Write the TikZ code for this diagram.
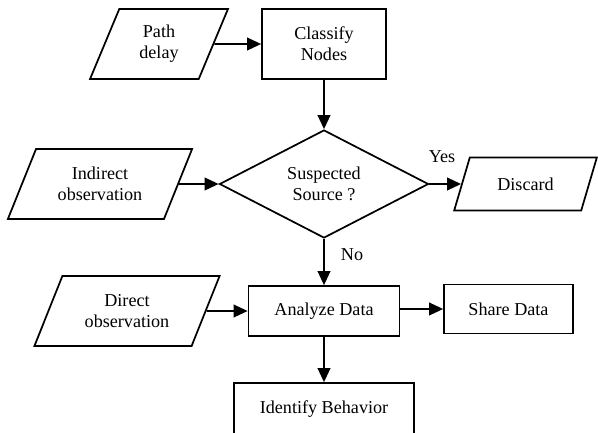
\documentclass[tikz,border=0pt]{standalone}
\usepackage{fontspec}
\setmainfont{Liberation Serif}
\usetikzlibrary{shapes.geometric}
\usetikzlibrary{arrows.meta}

\begin{document}
\begin{tikzpicture}[x=0.75pt,y=0.75pt,yscale=-1,xscale=1,
  every node/.style={font=\fontsize{13.6}{15.8}\selectfont, align=center, inner sep=0.75pt},
  procbox/.style={draw, line width=1.3pt, rectangle},
  iobox/.style={draw, line width=1.3pt, trapezium, trapezium stretches=true,
    trapezium left angle=#1, trapezium right angle={180-#1}},
  iobox/.default=62,
  decision/.style={draw, line width=1.3pt, diamond, shape aspect=2, inner sep=0pt},
  flowarrow/.style={line width=1.3pt, -{Triangle[length=10.5pt,width=9.5pt]}}]
\useasboundingbox (0,0) rectangle (598,432);

%Flowchart: Data
\node [iobox=69, minimum width=103.5pt, minimum height=52.5pt] (delay) at (159,44) {Path\\delay};
%Flowchart: Process
\node [procbox, minimum width=93pt, minimum height=52.5pt] (classify) at (324,44) {Classify\\Nodes};
%Flowchart: Decision
\node [decision, minimum width=156.75pt, minimum height=81pt] (suspect) at (324,184) {Suspected\\Source ?};
%Flowchart: Data
\node [iobox, minimum width=139.5pt, minimum height=52.5pt] (indirect) at (100,184) {Indirect\\observation};
%Flowchart: Data
\node [iobox=61, minimum width=107.25pt, minimum height=39.75pt] (discard) at (525.5,184) {Discard};
%Flowchart: Process
\node [procbox, minimum width=113.25pt, minimum height=37.5pt] (analyze) at (324,311) {Analyze Data};
%Flowchart: Data
\node [iobox, minimum width=139.5pt, minimum height=52.5pt] (direct) at (127,311) {Direct\\observation};
%Flowchart: Process
\node [procbox, minimum width=96.75pt, minimum height=36.75pt] (share) at (508.5,309) {Share Data};
%Flowchart: Process
\node [procbox, minimum width=135pt, minimum height=39pt] (identify) at (324,409) {Identify Behavior};

%Straight Lines
\draw [flowarrow] (delay) -- (classify);
\draw [flowarrow] (classify) -- (suspect);
\draw [flowarrow] (indirect) -- (suspect);
\draw [flowarrow] (suspect) -- (discard);
\draw [flowarrow] (suspect) -- (analyze);
\draw [flowarrow] (direct) -- (analyze);
\draw [flowarrow] (analyze.east |- share) -- (share);
\draw [flowarrow] (analyze) -- (identify);

% Text Node
\node (yes) at (442,157) {Yes};
% Text Node
\node (no) at (352,255) {No};

\end{tikzpicture}
\end{document}
